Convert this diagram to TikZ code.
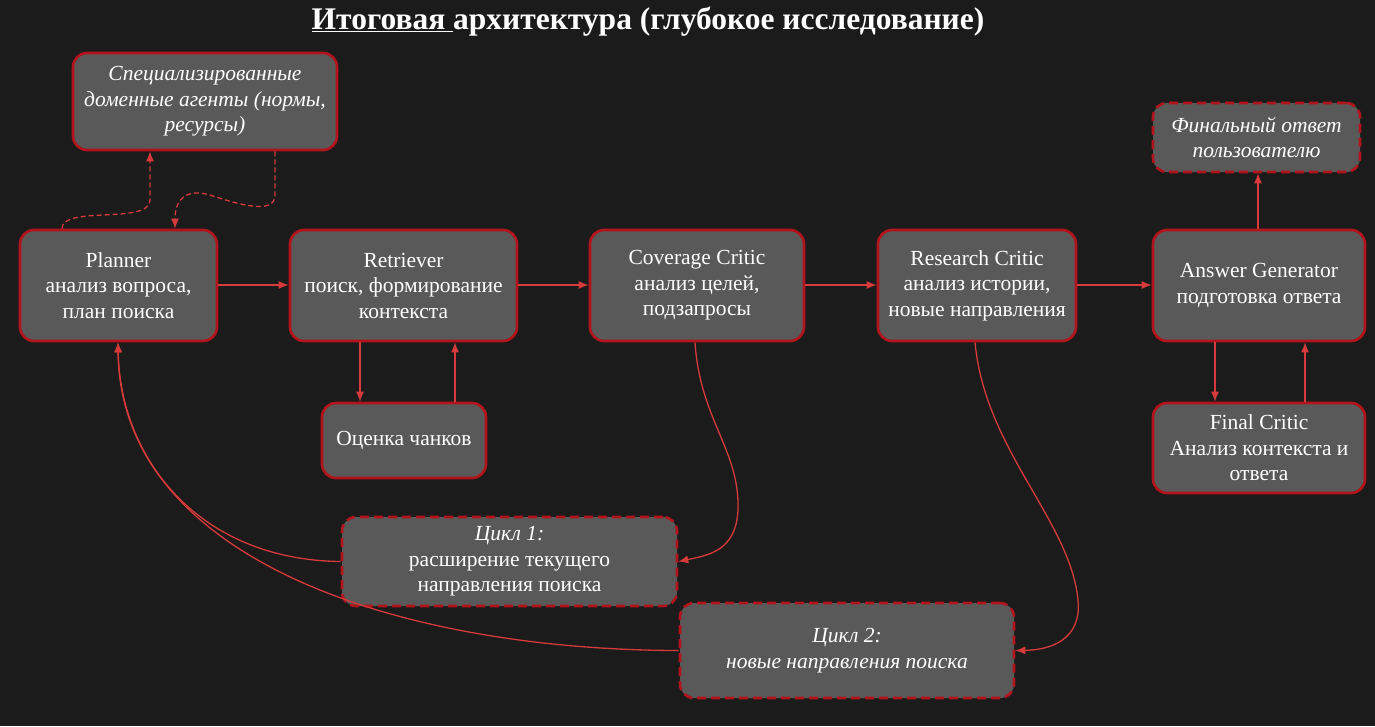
\documentclass[tikz,border=0pt]{standalone}
\usepackage{fontspec}
\setmainfont{Liberation Serif}
\usetikzlibrary{arrows.meta}
\definecolor{bg}{HTML}{1B1B1B}
\definecolor{nf}{HTML}{595959}
\definecolor{nb}{HTML}{B3141C}
\definecolor{ed}{HTML}{D63A3A}
\begin{document}
\begin{tikzpicture}[x=1pt,y=-1pt,
 box/.style={draw=nb,line width=2.6pt,fill=nf,rounded corners=14pt,text=white,font=\fontsize{21.5}{25.5}\selectfont,align=center,inner sep=2pt},
 dbox/.style={box,dash pattern=on 9pt off 5pt},
 ar/.style={draw=ed,line width=1.3pt,-{Latex[length=10pt,width=8pt]}},
 dar/.style={ar,dash pattern=on 5pt off 3pt}]
\fill[bg] (0,0) rectangle (1375,726);
\useasboundingbox (0,0) rectangle (1375,726);
\node[text=white,font=\bfseries\fontsize{31.5}{34}\selectfont] (title) at (648,22) {\underline{Итоговая }архитектура (глубокое исследование)};
\newcommand\bx[6]{\node[#1,minimum width=#4pt-#2pt,minimum height=#5pt-#3pt] (#6) at ({(#2+#4)/2},{(#3+#5)/2})}
\bx{box}{73}{53}{337}{150}{spec}{\itshape Специализированные\\\itshape доменные агенты (нормы,\\\itshape ресурсы)};
\bx{box}{20}{230}{217}{341}{plan}{Planner\\анализ вопроса,\\план поиска};
\bx{box}{290}{230}{517}{341}{retr}{Retriever\\поиск, формирование\\контекста};
\bx{box}{590}{230}{804}{341}{cov}{Coverage Critic\\анализ целей,\\подзапросы};
\bx{box}{878}{230}{1076}{341}{res}{Research Critic\\анализ истории,\\новые направления};
\bx{box}{1153}{230}{1365}{341}{ans}{Answer Generator\\подготовка ответа};
\bx{dbox}{1153}{103}{1360}{172}{fin}{\itshape Финальный ответ\\\itshape пользователю};
\bx{box}{322}{403}{486}{478}{ocen}{Оценка чанков};
\bx{box}{1153}{403}{1365}{493}{fc}{Final Critic\\Анализ контекста и\\ответа};
\bx{dbox}{342}{517}{677}{606}{c1}{\itshape Цикл 1:\\расширение текущего\\направления поиска};
\bx{dbox}{680}{603}{1014}{698}{c2}{\itshape Цикл 2:\\\itshape новые направления поиска};
\draw[ar] (plan.east|-0,285) -- (retr.west|-0,285);
\draw[ar] (retr.east|-0,285) -- (cov.west|-0,285);
\draw[ar] (cov.east|-0,285) -- (res.west|-0,285);
\draw[ar] (res.east|-0,285) -- (ans.west|-0,285);
\draw[ar] (ans.north-|1258,0) -- (fin.south-|1258,0);
\draw[ar] (ans.south-|1215,0) -- (fc.north-|1215,0);
\draw[ar] (fc.north-|1305,0) -- (ans.south-|1305,0);
\draw[ar] (retr.south-|360,0) -- (ocen.north-|360,0);
\draw[ar] (ocen.north-|455,0) -- (retr.south-|455,0);
\draw[dar] (plan.north-|62,0) .. controls (62,205) and (150,225) .. (150,200) -- (spec.south-|150,0);
\draw[dar] (spec.south-|275,0) -- (275,195) .. controls (275,215) and (240,205) .. (210,195) .. controls (185,188) and (175,200) .. (plan.north-|175,0);
\draw[ar] (cov.south-|695,0) .. controls (700,420) and (740,450) .. (738,510) .. controls (736,550) and (710,555) .. (c1.east);
\draw[ar] (res.south-|975,0) .. controls (985,450) and (1070,520) .. (1078,600) .. controls (1082,640) and (1050,650) .. (c2.east);
\draw[ar] (c1.west) .. controls (200,560) and (120,460) .. (plan.south-|118,0);
\draw[ar] (c2.west) .. controls (400,650) and (120,560) .. (plan.south-|118,0);
\end{tikzpicture}
\end{document}
